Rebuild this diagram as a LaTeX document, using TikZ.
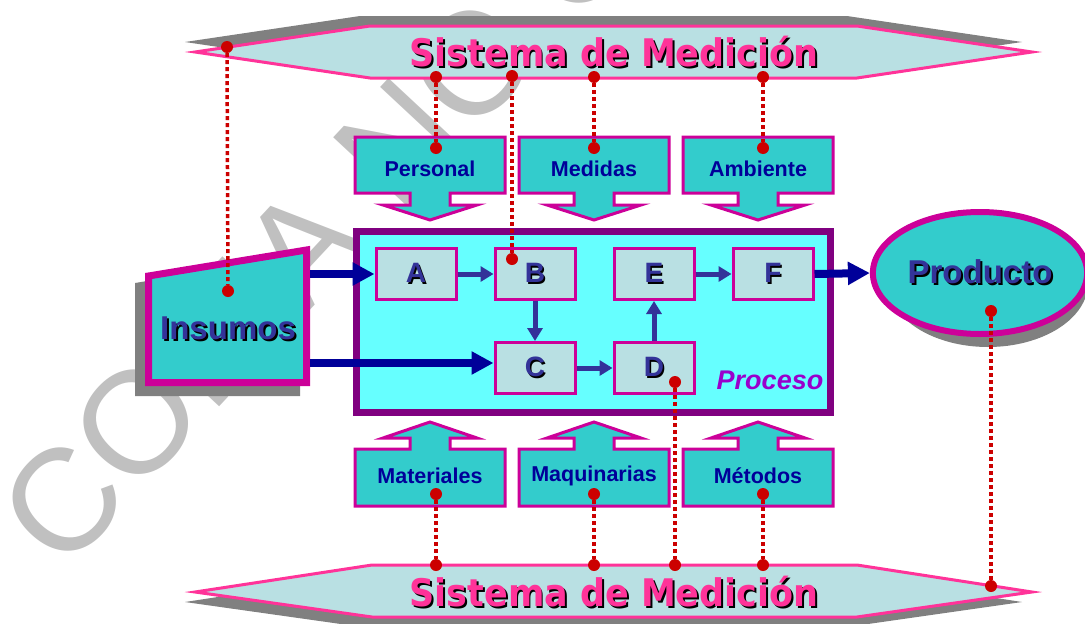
\documentclass[tikz,border=0pt]{standalone}
\usepackage{fontspec}
\setmainfont{Liberation Sans}
\newfontfamily\bannerfont{DejaVu Sans}
\usetikzlibrary{arrows.meta,shapes.geometric}

\definecolor{boxmag}{HTML}{CC0099}
\definecolor{tealfill}{HTML}{33CCCC}
\definecolor{procfill}{HTML}{66FFFF}
\definecolor{procborder}{HTML}{800080}
\definecolor{lightfill}{HTML}{B9E0E3}
\definecolor{bannerpink}{HTML}{FF3399}
\definecolor{navy}{HTML}{000099}
\definecolor{indigo}{HTML}{333399}
\definecolor{measred}{HTML}{CC0000}
\definecolor{procviolet}{HTML}{9900CC}
\definecolor{shadowgray}{HTML}{808080}
\definecolor{markgray}{HTML}{C0C0C0}

% text with a dark drop shadow
\newcommand\txtshadow[2][1.5pt]{\rlap{\hspace{#1}\raisebox{-#1}{\textcolor{black}{#2}}}#2}

\tikzset{
  banner/.style={draw=bannerpink, line width=3pt, fill=lightfill, line join=miter},
  bannertext/.style={text=bannerpink, font={\bannerfont\fontsize{38}{40}\selectfont\bfseries}, inner sep=0pt},
  inbox/.style={draw=boxmag, line width=3pt, fill=tealfill},
  inlabel/.style={text=navy, font={\fontsize{21.5}{24}\selectfont\bfseries}, inner sep=0pt},
  stepbox/.style={draw=boxmag, line width=3pt, fill=lightfill, minimum width=80pt, minimum height=51pt, inner sep=0pt,
    text=indigo, font={\fontsize{28}{30}\selectfont\bfseries}},
  flowarrow/.style={draw=indigo, line width=5pt, -{Triangle[length=13pt,width=15pt]}},
  bigarrow/.style={draw=navy, line width=8pt, -{Triangle[length=22pt,width=22pt]}},
  measline/.style={draw=measred, line width=3.5pt, dash pattern=on 4pt off 3pt},
  measdot/.style={circle, fill=measred, minimum size=12pt, inner sep=0pt},
}

\begin{document}
\begin{tikzpicture}[x=1pt,y=-1pt]
  \useasboundingbox (0,0) rectangle (1085,624);

  % watermark
  \begin{scope}
    \clip (0,0) rectangle (1085,624);
    \node[text=markgray, rotate=47, font={\fontsize{145}{145}\selectfont}] (mark) at (626,-102) {COPIA NO CONTROLADA};
  \end{scope}

  % measurement system banners
  \fill[shadowgray, shift={(-10,-10)}] (195,52) -- (370,26) -- (857,26) -- (1032,52) -- (857,78) -- (370,78) -- cycle;
  \draw[banner] (195,52) -- (370,26) -- (857,26) -- (1032,52) -- (857,78) -- (370,78) -- cycle;
  \node[bannertext] (smtop) at (614,53) {\scalebox{0.92}[1]{\txtshadow[2pt]{Sistema de Medición}}};

  \fill[shadowgray, shift={(-10,10)}] (195,592) -- (372,565) -- (857,565) -- (1032,592) -- (857,617) -- (372,617) -- cycle;
  \draw[banner] (195,592) -- (372,565) -- (857,565) -- (1032,592) -- (857,617) -- (372,617) -- cycle;
  \node[bannertext] (smbot) at (614,593) {\scalebox{0.92}[1]{\txtshadow[2pt]{Sistema de Medición}}};

  % inputs above
  \foreach \cx/\lbl/\nm in {430/Personal/per, 594/Medidas/med, 758/Ambiente/amb} {
    \draw[inbox] (\cx-75,137) -- (\cx+75,137) -- (\cx+75,193) -- (\cx+20,193) -- (\cx+20,205) -- (\cx+47,205)
      -- (\cx,220) -- (\cx-47,205) -- (\cx-20,205) -- (\cx-20,193) -- (\cx-75,193) -- cycle;
    \node[inlabel] (\nm) at (\cx,169) {\lbl};
  }

  % inputs below
  \foreach \cx/\lbl/\nm in {430/Materiales/mat, 594/Maquinarias/maq, 758/Métodos/met} {
    \draw[inbox] (\cx-75,506) -- (\cx+75,506) -- (\cx+75,449) -- (\cx+20,449) -- (\cx+20,438) -- (\cx+47,438)
      -- (\cx,422) -- (\cx-47,438) -- (\cx-20,438) -- (\cx-20,449) -- (\cx-75,449) -- cycle;
    \node[inlabel] (\nm) at (\cx,476) {\lbl};
  }

  % process
  \node[draw=procborder, line width=7pt, fill=procfill, minimum width=474pt, minimum height=181pt] (proc) at (593,321.5) {};
  \node[text=procviolet, font={\fontsize{27}{30}\selectfont\bfseries\itshape}, inner sep=0pt] (proclbl) at (770,380) {Proceso};

  \node[stepbox] (a) at (416,274) {\txtshadow{A}};
  \node[stepbox] (b) at (535,274) {\txtshadow{B}};
  \node[stepbox] (e) at (654,274) {\txtshadow{E}};
  \node[stepbox] (f) at (773,274) {\txtshadow{F}};
  \node[stepbox] (c) at (535,368) {\txtshadow{C}};
  \node[stepbox] (d) at (654,368) {\txtshadow{D}};

  \draw[flowarrow] (a) -- (b);
  \draw[flowarrow] (b) -- (c);
  \draw[flowarrow] (c) -- (d);
  \draw[flowarrow] (d) -- (e);
  \draw[flowarrow] (e) -- (f);

  % supplies
  \fill[shadowgray, shift={(-10,10)}] (145,273) -- (310,246) -- (310,386) -- (145,386) -- cycle;
  \draw[draw=boxmag, line width=7pt, fill=tealfill] (148.5,276) -- (306.5,250) -- (306.5,382.5) -- (148.5,382.5) -- cycle;
  \node[text=indigo, font={\fontsize{33}{36}\selectfont\bfseries}, inner sep=0pt] (ins) at (228,329) {\txtshadow[2pt]{Insumos}};
  \coordinate (insa) at (310,274);
  \coordinate (insc) at (310,363);

  % product
  \fill[shadowgray] (988,283) ellipse [x radius=100, y radius=64];
  \node[ellipse, draw=boxmag, line width=6pt, fill=tealfill, minimum width=195pt, minimum height=122pt,
    text=indigo, font={\fontsize{33}{36}\selectfont\bfseries}] (prod) at (980,273) {\txtshadow[2pt]{Producto}};

  \draw[bigarrow] (insa) -- (insa -| a.west);
  \draw[bigarrow] (insc) -- (insc -| c.west);
  \draw[bigarrow] (f.east) -- (prod.west);

  % measurement links
  \node[measdot] (m1) at (227,47) {};
  \node[measdot] (m2) at (436,77) {};
  \node[measdot] (m3) at (512,76) {};
  \node[measdot] (m4) at (594,77) {};
  \node[measdot] (m5) at (763,77) {};
  \node[measdot] (p1) at (228,291) {};
  \node[measdot] (p2) at (436,148) {};
  \node[measdot] (p3) at (512,259) {};
  \node[measdot] (p4) at (594,148) {};
  \node[measdot] (p5) at (763,148) {};
  \foreach \i in {1,...,5} {
    \draw[measline] (m\i) -- (p\i);
  }

  \node[measdot] (n1) at (436,494) {};
  \node[measdot] (n2) at (594,494) {};
  \node[measdot] (n3) at (763,494) {};
  \node[measdot] (n4) at (675,382) {};
  \node[measdot] (n5) at (991,311) {};
  \node[measdot] (q1) at (436,565) {};
  \node[measdot] (q2) at (594,565) {};
  \node[measdot] (q3) at (763,565) {};
  \node[measdot] (q4) at (675,565) {};
  \node[measdot] (q5) at (991,586) {};
  \foreach \i in {1,...,5} {
    \draw[measline] (n\i) -- (q\i);
  }
\end{tikzpicture}
\end{document}
